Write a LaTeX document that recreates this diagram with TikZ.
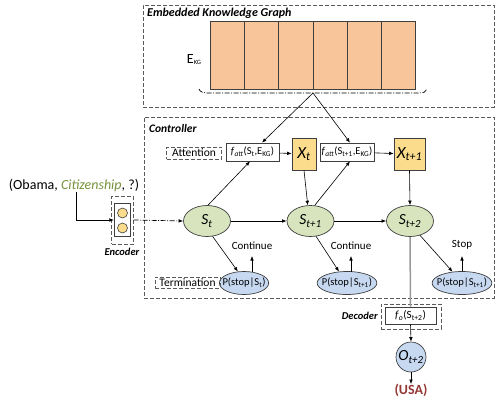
\documentclass[tikz,border=0pt]{standalone}
\usepackage{fontspec}
\setmainfont{Carlito}
\usetikzlibrary{arrows.meta,shapes.geometric}
\definecolor{kgorange}{HTML}{F8C49A}
\definecolor{sgreen}{HTML}{D7E4BD}
\definecolor{pblue}{HTML}{C6D9F1}
\definecolor{xyellow}{HTML}{FBDC8D}
\definecolor{citgreen}{HTML}{77933C}
\definecolor{usared}{HTML}{953735}
\definecolor{edgegray}{HTML}{3F3F3F}
\definecolor{dashgray}{HTML}{5A5A5A}
\newcommand{\fs}[1]{\fontsize{#1}{#1}\selectfont}
\begin{document}
\begin{tikzpicture}[x=1pt,y=-1pt,
  every node/.style={font=\fs{11}},
  arr/.style={-{Latex[length=4.5pt,width=3.6pt]}, draw=black, line width=0.6pt},
  dbox/.style={draw=dashgray, dashed, dash pattern=on 4pt off 2pt, line width=0.9pt, inner sep=0pt},
  sbox/.style={draw=edgegray, line width=0.7pt, inner sep=0pt},
  kgcell/.style={draw=edgegray, fill=kgorange, line width=0.8pt, minimum width=34.17pt, minimum height=68pt, anchor=north west, inner sep=0pt},
  sell/.style={ellipse, draw=edgegray, fill=sgreen, line width=0.7pt, minimum width=47pt, minimum height=31pt, inner sep=0pt},
  pell/.style={ellipse, draw=edgegray, fill=pblue, line width=0.7pt, minimum height=23pt, inner xsep=-4pt, inner ysep=0pt, font=\fs{10.5}},
  xbox/.style={draw=edgegray, fill=xyellow, line width=0.7pt, minimum width=24pt, minimum height=32pt, inner sep=0pt, font=\fs{17}\itshape},
  fbox/.style={sbox, fill=white, minimum height=18pt, font=\fs{10.5}},
  lbl/.style={font=\fs{11.5}\bfseries\itshape, inner sep=0pt},
  dashdot/.style={dash pattern=on 5pt off 1.5pt on 1pt off 1.5pt, line width=0.7pt}
]
\useasboundingbox (0,0) rectangle (498,402);

% ---------- Embedded knowledge graph ----------
\node[dbox, minimum width=351pt, minimum height=102pt, anchor=north west] (kgbox) at (143,5) {};
\node[lbl, anchor=north west, font=\fs{12}\bfseries\itshape] (kglabel) at (147,8) {Embedded Knowledge Graph};
\foreach \i in {0,...,5} {
  \node[kgcell] (cell\i) at ({210+\i*34.17},21) {};
}
\node[inner sep=0pt] (ekg) at (194,60) {\fs{14}E\raisebox{-1pt}{\fs{6.5}KG}};
\coordinate (kgc) at (313,93);
\draw[dashdot, draw=black] (199,89) .. controls (200,92) and (203,93) .. (209,93) -- (kgc) -- (418,93) .. controls (424,93) and (426,92) .. (427,89);

% ---------- Controller ----------
\node[dbox, minimum width=350pt, minimum height=181pt, anchor=north west] (ctrl) at (144,117) {};
\node[lbl, anchor=north west] (ctrllabel) at (149,124) {Controller};

\node[dbox, minimum width=55pt, minimum height=12pt, font=\fs{11.5}] (att) at (194,153) {Attention};
\node[fbox, minimum width=53pt] (fatt1) at (252.5,152) {\textit{f}\textsubscript{\textit{att}}(S\textsubscript{t},E\textsubscript{KG})};
\node[xbox] (X1) at (304,154) {X\textsubscript{t}};
\node[fbox, minimum width=54pt] (fatt2) at (347,152) {\textit{f}\textsubscript{\textit{att}}(S\textsubscript{t+1},E\textsubscript{KG})};
\node[xbox, minimum width=31pt] (X2) at (409.5,154) {X\textsubscript{t+1}};

\node[sell] (St) at (207,221) {\fs{15.5}\itshape S\textsubscript{t}};
\node[sell] (St1) at (310.5,221) {\fs{15.5}\itshape S\textsubscript{t+1}};
\node[sell] (St2) at (410,221) {\fs{15.5}\itshape S\textsubscript{t+2}};

\node[pell] (P1) at (244,283) {P(stop|S\textsubscript{t})};
\node[pell] (P2) at (347,283) {P(stop|S\textsubscript{t+1})};
\node[pell] (P3) at (462,283) {P(stop|S\textsubscript{t+1})};

\node[dbox, minimum width=65pt, minimum height=11pt, font=\fs{11.5}] (term) at (187.5,282.5) {Termination};

% arrows from KG
\draw[arr] (kgc) -- (fatt1.north -| 262,0);
\draw[arr] (kgc) -- (fatt2.north -| 350,0);
% attention
\draw[arr] (fatt1) -- (X1);
\draw[arr] (fatt2) -- (X2);
\draw[arr] (St.north) ++(1,0) coordinate (a1) (a1) -- (fatt1.south -| 250,0);
\draw[arr] (X1.south) -- (St1.100);
\draw[arr] (St1.75) -- (fatt2.south -| 350,0);
\draw[arr] (X2.south) -- (St2.north);
% state transitions
\draw[arr] (St) -- (St1);
\draw[arr] (St1) -- (St2);
% termination
\draw[arr] (St.-70) -- (P1.118);
\draw[arr] (St1.-70) -- (P2.125);
\draw[arr] (St2.-55) -- (P3.130);
\coordinate (c1) at (252,256);
\coordinate (c2) at (351,256);
\coordinate (c3) at (462,256);
\draw[arr] (c1 |- P1.north) ++(0,1) coordinate (b1) (b1) -- (c1);
\draw[arr] (c2 |- P2.north) ++(0,0.5) coordinate (b2) (b2) -- (c2);
\draw[arr] (P3.north) -- (c3);
\node[font=\fs{11}, anchor=south] (cont1) at (252,253) {Continue};
\node[font=\fs{11}, anchor=south] (cont2) at (351,253) {Continue};
\node[font=\fs{11}, anchor=south] (stop3) at (462,253) {Stop};

% ---------- Encoder ----------
\node[anchor=south, inner sep=0pt, font=\fs{14}] (query) at (74,192) {(Obama, \textcolor{citgreen}{\textit{Citizenship}}, ?)};
\node[dbox, minimum width=21.5pt, minimum height=48pt] (enc) at (122.5,220) {};
\node[sbox, minimum width=16.5pt, minimum height=33.5pt] (encin) at (122.5,220) {};
\node[circle, draw=edgegray, fill=xyellow, line width=0.6pt, minimum size=10pt, inner sep=0pt] (e1) at (122.5,213) {};
\node[circle, draw=edgegray, fill=xyellow, line width=0.6pt, minimum size=10pt, inner sep=0pt] (e2) at (122.5,228) {};
\node[lbl, font=\fs{10.5}\bfseries\itshape] (enclabel) at (122,252) {Encoder};
\coordinate (q1) at (76.5,192);
\draw[arr] (q1) |- (encin.west);
\draw[arr, dashdot] (enc.east) -- (St.west);

% ---------- Decoder ----------
\node[dbox, minimum width=60pt, minimum height=25pt] (dec) at (411,316.5) {};
\node[sbox, minimum width=51pt, minimum height=17pt, font=\fs{11}] (decin) at (410.5,315.5) {\textit{f}\textsubscript{\textit{o}}(S\textsubscript{t+2})};
\node[lbl, anchor=east, font=\fs{10.5}\bfseries\itshape] (declabel) at (378,316) {Decoder};
\draw[draw=gray!80, line width=1.5pt] (St2.south) -- (decin.north);
\node[circle, draw=edgegray, fill=pblue, line width=0.7pt, minimum size=30pt, inner sep=0pt] (O) at (411,357) {\fs{15.5}\itshape O\textsubscript{t+2}};
\draw[arr] (decin.south) -- (O.north);
\node[anchor=north, inner sep=0pt, font=\fs{14}\bfseries, text=usared] (usa) at (411,384) {(USA)};
\draw[arr] (O.south) -- (usa.north);
\end{tikzpicture}
\end{document}
